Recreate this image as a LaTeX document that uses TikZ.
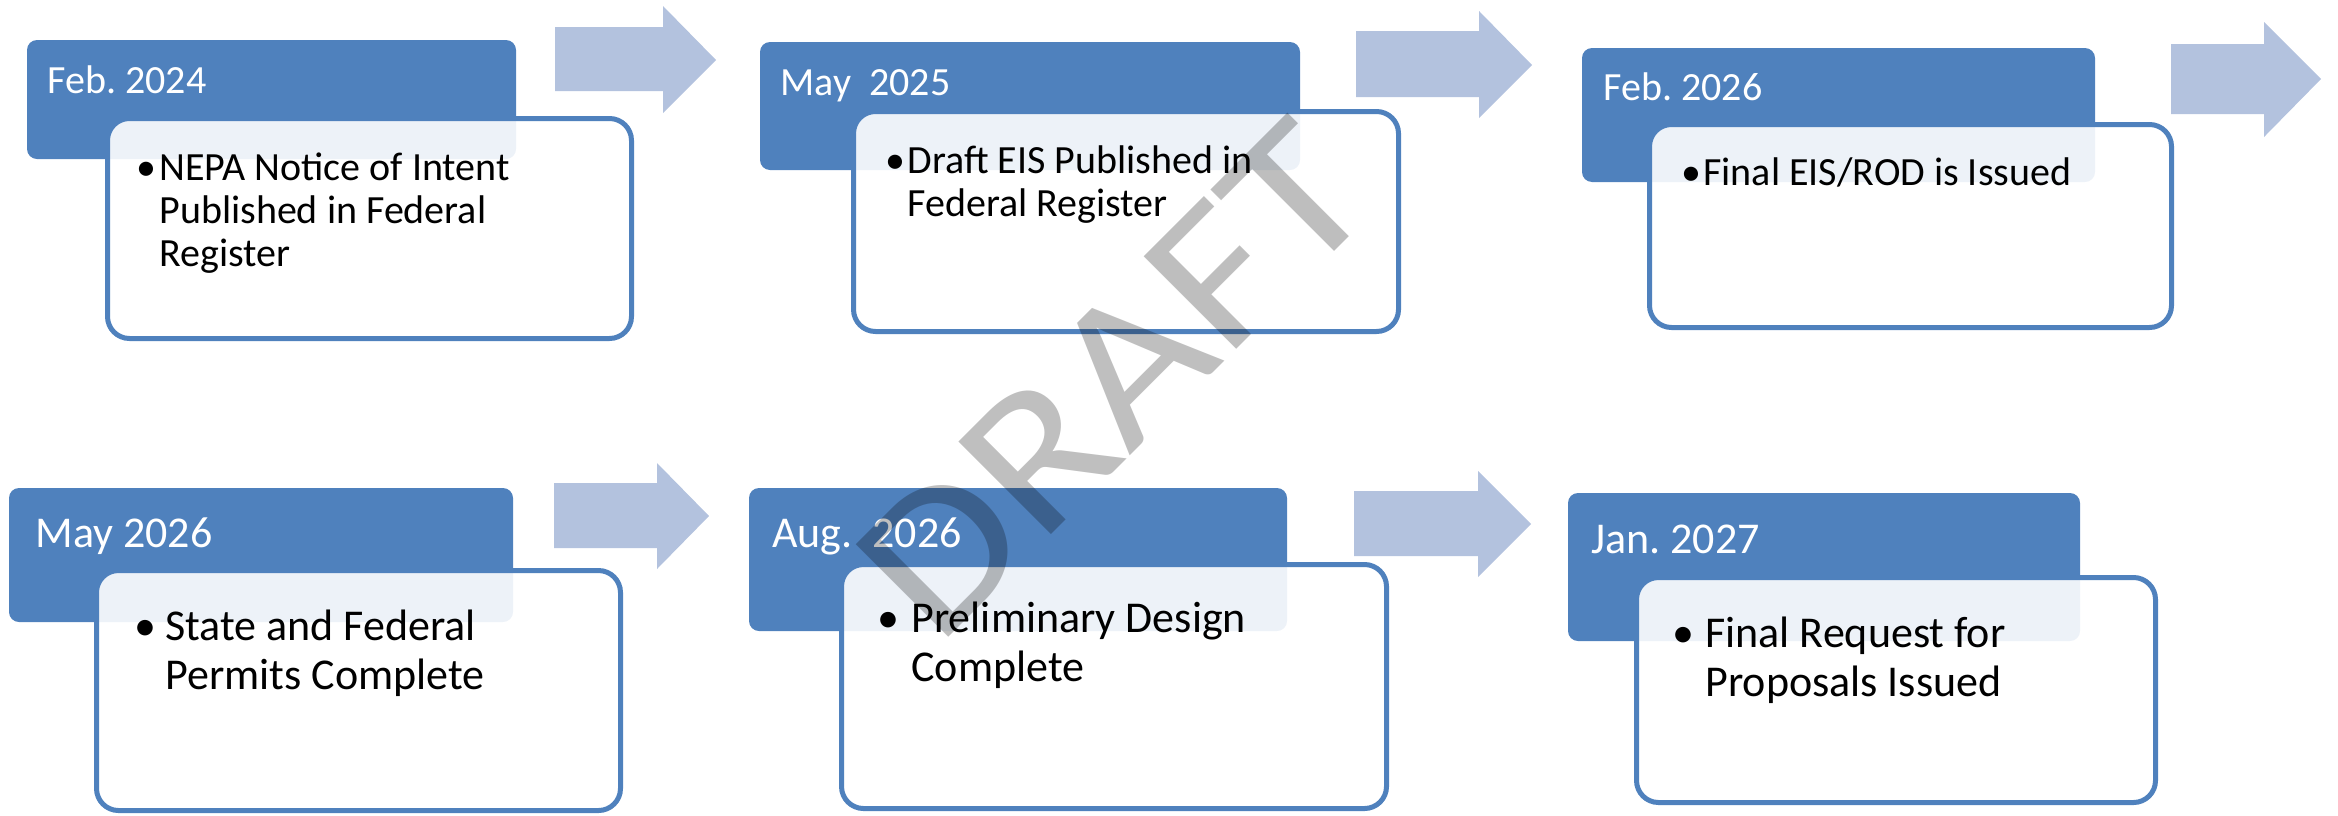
\documentclass[tikz,border=0pt]{standalone}
\usepackage{fontspec}
\setmainfont{Carlito}
\definecolor{accent}{HTML}{4F81BD}
\definecolor{arrowfill}{HTML}{B3C2DE}
\frenchspacing
\begin{document}
\begin{tikzpicture}[x=0.5pt,y=-0.5pt,
  datebox/.style={fill=accent, rounded corners=5pt},
  itembox/.style={draw=accent, line width=2.5pt, fill=white, fill opacity=0.9, rounded corners=11pt},
  flowarrow/.style={fill=arrowfill},
  toplabel/.style={anchor=base west, inner sep=0pt, text=white, font=\fontsize{20}{24}\selectfont},
  lowlabel/.style={anchor=base west, inner sep=0pt, text=white, font=\fontsize{22}{26}\selectfont},
  topitem/.style={anchor=base west, inner sep=0pt, font=\fontsize{20}{21.5}\selectfont},
  lowitem/.style={anchor=base west, inner sep=0pt, font=\fontsize{22}{24.5}\selectfont},
  watermark/.style={inner sep=0pt, text=black, text opacity=0.25, font=\fontsize{102}{102}\selectfont}]
\useasboundingbox (0,0) rectangle (2338,815);

% ---------- top row ----------
\path[datebox] (27,40) rectangle (516,159);
\path[itembox] (107.5,118.5) rectangle (631.5,338.5);
\node[toplabel] (d1) at (47,93) {Feb. 2024};
\node[topitem] (b1) at (136,180) {•};
\node[topitem] (t1) at (159,180) {\begin{tabular}[t]{@{}l@{}}NEPA Notice of Intent\\Published in Federal\\Register\end{tabular}};

\path[datebox] (760,42) rectangle (1300,170);
\path[itembox] (853.5,111.5) rectangle (1398.5,331.5);
\node[toplabel] (d2) at (780,95) {May\ \ 2025};
\node[topitem] (b2) at (885,173) {•};
\node[topitem] (t2) at (907,173) {\begin{tabular}[t]{@{}l@{}}Draft EIS Published in\\Federal Register\end{tabular}};

\path[datebox] (1582,48) rectangle (2095,182);
\path[itembox] (1649.5,124.5) rectangle (2171.5,327.5);
\node[toplabel] (d3) at (1603,100) {Feb. 2026};
\node[topitem] (b3) at (1681,185) {•};
\node[topitem] (t3) at (1703,185) {Final EIS/ROD is Issued};

% ---------- bottom row ----------
\path[datebox] (9,488) rectangle (513,622);
\path[itembox] (96.5,570.5) rectangle (620.5,810.5);
\node[lowlabel] (d4) at (35,547) {May 2026};
\node[lowitem] (b4) at (134,640) {•};
\node[lowitem] (t4) at (165,640) {\begin{tabular}[t]{@{}l@{}}State and Federal\\Permits Complete\end{tabular}};

\path[datebox] (749,488) rectangle (1287,631);
\path[itembox] (841.5,564.5) rectangle (1386.5,808.5);
\node[lowlabel] (d5) at (772,547) {Aug.\ \ 2026};
\node[lowitem] (b5) at (877,632) {•};
\node[lowitem] (t5) at (911,632) {\begin{tabular}[t]{@{}l@{}}Preliminary Design\\Complete\end{tabular}};

\path[datebox] (1568,493) rectangle (2080,641);
\path[itembox] (1636.5,577.5) rectangle (2155.5,802.5);
\node[lowlabel] (d6) at (1591,553) {Jan. 2027};
\node[lowitem] (b6) at (1672,647) {•};
\node[lowitem] (t6) at (1705,647) {\begin{tabular}[t]{@{}l@{}}Final Request for\\Proposals Issued\end{tabular}};

% ---------- block arrows ----------
\fill[flowarrow] (555,27) -- (663,27) -- (663,6) -- (716,60) -- (663,113) -- (663,91) -- (555,91) -- cycle;
\fill[flowarrow] (1356,31) -- (1479,31) -- (1479,11) -- (1532,65) -- (1479,118) -- (1479,97) -- (1356,97) -- cycle;
\fill[flowarrow] (2171,44) -- (2264,44) -- (2264,22) -- (2321,79) -- (2264,137) -- (2264,114) -- (2171,114) -- cycle;
\fill[flowarrow] (554,483) -- (657,483) -- (657,463) -- (709,516) -- (657,569) -- (657,548) -- (554,548) -- cycle;
\fill[flowarrow] (1354,491) -- (1478,491) -- (1478,471) -- (1531,524) -- (1478,577) -- (1478,556) -- (1354,556) -- cycle;

% ---------- watermark ----------
\node[watermark, rotate=45, xscale=1.15] (wm) at (1114,380) {DRAFT};
\end{tikzpicture}
\end{document}
